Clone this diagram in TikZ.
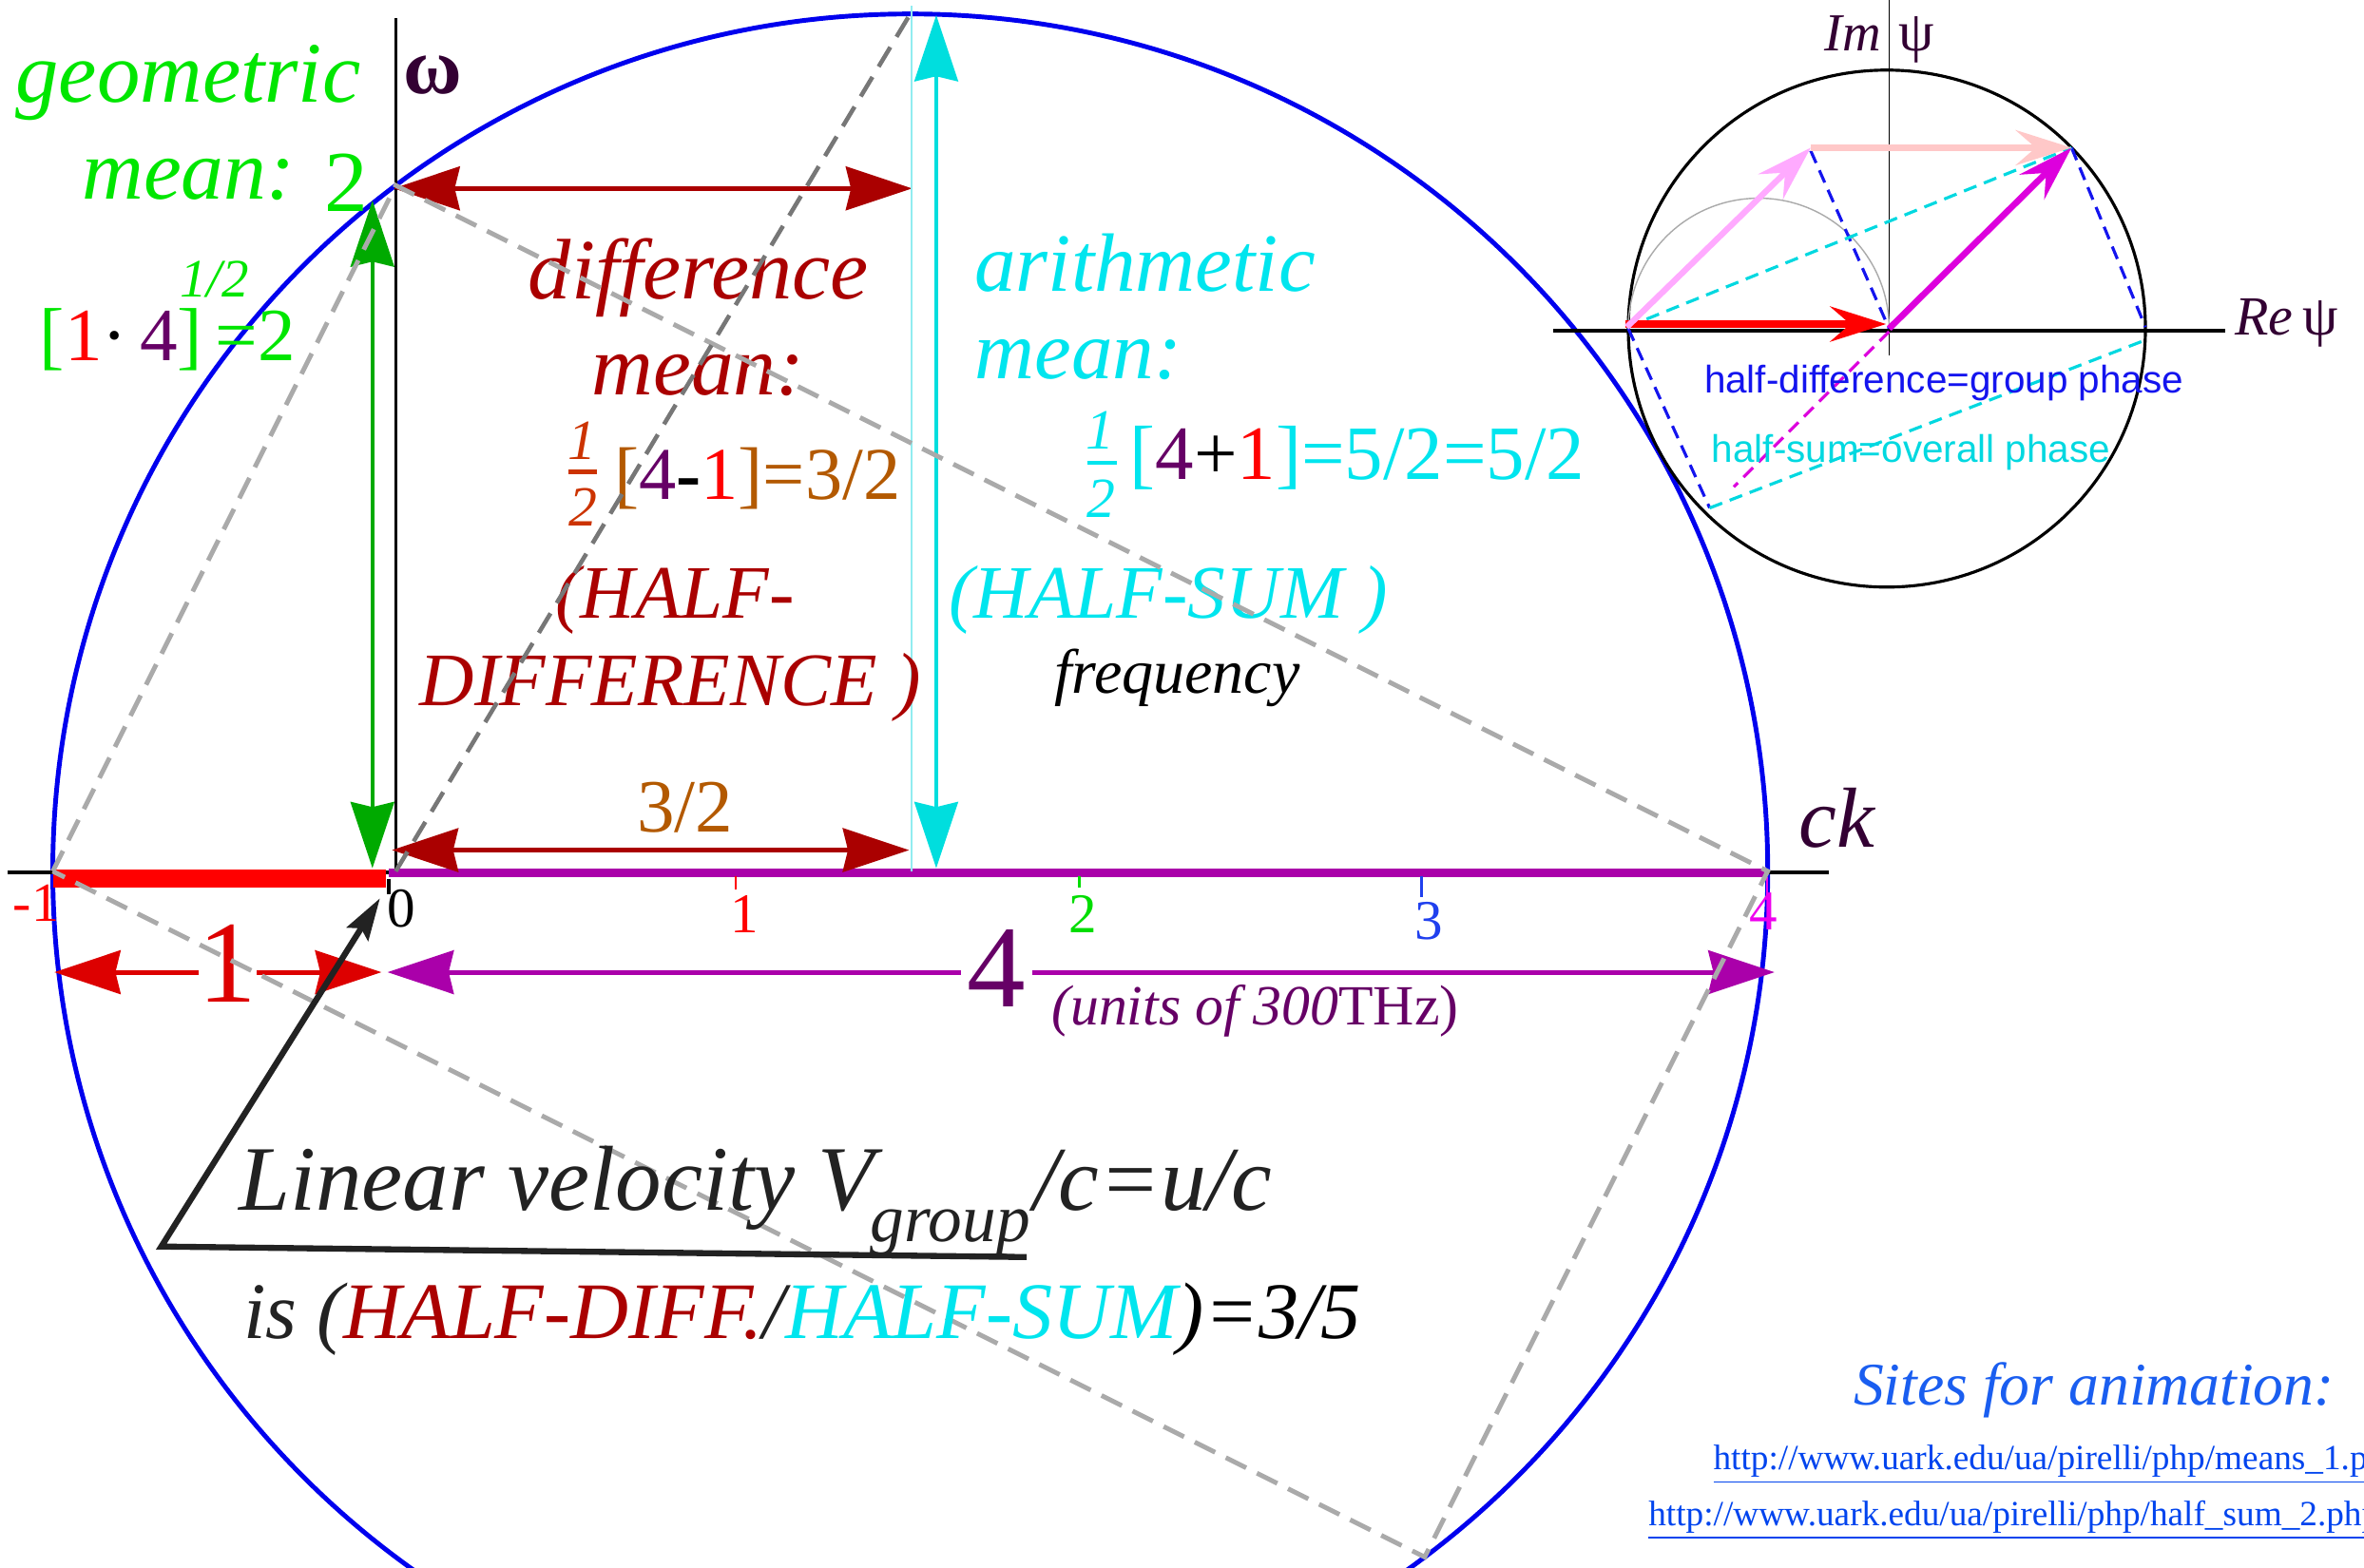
\documentclass[tikz,border=0pt]{standalone}
\usepackage{fontspec}
\setmainfont{Liberation Serif}
\newfontfamily\sansf{Liberation Sans}
\usetikzlibrary{arrows.meta}
\definecolor{dred}{HTML}{AA0000}
\definecolor{gmean}{HTML}{00E600}
\definecolor{garrow}{HTML}{00AA00}
\definecolor{brn}{HTML}{B35900}
\definecolor{orn}{HTML}{CC3300}
\definecolor{dpur}{HTML}{660066}
\definecolor{pur}{HTML}{AA00AA}
\definecolor{cyn}{HTML}{00E5EE}
\definecolor{cyna}{HTML}{00DEDE}
\definecolor{cynl}{HTML}{90ECF0}
\definecolor{axl}{HTML}{330033}
\definecolor{bcirc}{HTML}{0000EE}
\definecolor{lgrey}{HTML}{AAAAAA}
\definecolor{dgrey}{HTML}{777777}
\definecolor{rd}{HTML}{FF0000}
\definecolor{rda}{HTML}{DD0000}
\definecolor{lin}{HTML}{222222}
\definecolor{site}{HTML}{1A5EF0}
\definecolor{url}{HTML}{0044EE}
\definecolor{pinka}{HTML}{FFAAFF}
\definecolor{pinkb}{HTML}{FFC8C8}
\definecolor{mag}{HTML}{DD00DD}
\definecolor{hdiff}{HTML}{1414EE}
\definecolor{hsum}{HTML}{00D8E0}
\definecolor{tickg}{HTML}{00DD00}
\definecolor{tickb}{HTML}{2040EE}
\definecolor{tickm}{HTML}{EE00EE}
\newcommand\fsz[1]{\fontsize{#1}{#1}\selectfont}
\begin{document}
\begin{tikzpicture}[x=0.01586cm,y=-0.01586cm,
  lbl/.style={inner sep=0pt, anchor=base west},
  lblc/.style={inner sep=0pt, anchor=base},
  bigtips/.style={arrows={Stealth[length=19.8pt,width=13pt,inset=1.5pt]-Stealth[length=19.8pt,width=13pt,inset=1.5pt]}},
  smalltip/.style={arrows={-Stealth[length=16.7pt,width=10.5pt,inset=6pt]}},
  ptrtip/.style={arrows={-Stealth[length=12.6pt,width=7.5pt,inset=2pt]}},
  lgdash/.style={draw=lgrey, line width=1.4pt, dash pattern=on 6.8pt off 3.6pt},
  dgdash/.style={draw=dgrey, line width=1.3pt, dash pattern=on 6.8pt off 3.6pt},
  thindash/.style={line width=0.9pt, dash pattern=on 4pt off 2.4pt}]
\useasboundingbox (0,0) rectangle (1568,1040);
\clip (0,0) rectangle (1568,1040);
% ---------- key points
\coordinate (O) at (262.5,578);
\coordinate (Mn) at (35,578);
\coordinate (P4) at (1172.5,578);
\coordinate (W2) at (262.5,123);
\coordinate (Tp) at (603.75,9.25);
\coordinate (Bt) at (945,1033);
\coordinate (Cc) at (603.75,578);
% ---------- big circle
\draw[bcirc, line width=1.4pt] (Cc) circle[radius=568.75];
% ---------- axes
\coordinate (axL) at (5,579);
\coordinate (axR) at (1213,579);
\coordinate (wTop) at (262.5,12);
\draw[black, line width=1.1pt] (axL) -- (axR);
\draw[black, line width=0.9pt] (wTop) -- (O);
% ---------- bars
\fill[rd] (35,577) rectangle (256,589);
\fill[pur] (258,576) rectangle (1172,582);
% ---------- ticks
\draw[black, line width=1pt] (258,583) -- (258,593);
\draw[rd, line width=0.8pt] (488,581) -- (488,590);
\draw[tickg, line width=0.8pt] (716,581) -- (716,589);
\draw[tickb, line width=0.8pt] (943,581) -- (943,595);
\draw[tickm, line width=0.8pt] (1172,582) -- (1172,597);
\node[lblc, text=rd] (tkm1) at (24,611) {\fsz{16.5pt}-1};
\node[lblc, text=black] (tk0) at (266.5,615) {\fsz{16.8pt}0};
\node[lblc, text=rd] (tk1) at (494,619) {\fsz{16.8pt}1};
\node[lblc, text=tickg] (tk2) at (718,619) {\fsz{16.8pt}2};
\node[lblc, text=tickb] (tk3) at (948,623) {\fsz{16.8pt}3};
\node[lblc, text=tickm] (tk4) at (1170,617) {\fsz{16.8pt}4};
% ---------- arrows
\coordinate (dA1) at (261,125); \coordinate (dA2) at (605,125);
\coordinate (dB1) at (260,564); \coordinate (dB2) at (603,564);
\draw[dred, line width=1.5pt, bigtips] (dA1) -- (dA2);
\draw[dred, line width=1.5pt, bigtips] (dB1) -- (dB2);
\coordinate (gA1) at (247,133); \coordinate (gA2) at (247,576);
\draw[garrow, line width=1.2pt, bigtips] (gA1) -- (gA2);
\coordinate (cL1) at (604.5,4); \coordinate (cL2) at (604.5,578);
\draw[cynl, line width=0.5pt] (cL1) -- (cL2);
\coordinate (cA1) at (621,10); \coordinate (cA2) at (621,576);
\draw[cyna, line width=1.2pt, bigtips] (cA1) -- (cA2);
\coordinate (rA1) at (36,645); \coordinate (rA2) at (253,645);
\draw[rda, line width=1.4pt, bigtips] (rA1) -- (rA2);
\coordinate (pA1) at (257,645); \coordinate (pA2) at (1177,645);
\draw[pur, line width=1.4pt, bigtips] (pA1) -- (pA2);
\node[lblc, text=rda, fill=white] (tOne) at (151,665) {\fsz{35pt}1};
\node[lblc, text=dpur, fill=white, inner xsep=2pt] (tFour) at (661,668) {\fsz{35pt}4};
\node[lbl, text=dpur] (tUnits) at (697,680) {\fsz{17pt}\textit{(units of 300}THz)};
\node[lblc, text=brn] (t32) at (454.5,552) {\fsz{22.5pt}3/2};
% ---------- texts, left
\node[lbl, text=gmean] (tGeo) at (10,68) {\fsz{25.8pt}\itshape geometric};
\node[lbl, text=gmean] (tMean1) at (54,132) {\fsz{25.5pt}\itshape mean:};
\node[lbl, text=gmean] (tTwo) at (215,140) {\fsz{26pt}2};
\node[lbl, text=gmean] (tHalf) at (119,197) {\fsz{16.2pt}\itshape 1/2};
\node[lbl, text=gmean] (tProd) at (26,239) {\fsz{22.5pt}[\textcolor{rd}{1}\textcolor{black}{·}\,\textcolor{dpur}{4}]\,=2};
\node[lbl, text=axl] (tW) at (267,62) {\fsz{24pt}\bfseries ω};
% ---------- difference mean
\node[lbl, text=dred] (tDiff) at (350,198) {\fsz{25.7pt}\itshape difference};
\node[lbl, text=dred] (tMean2) at (392,262) {\fsz{25.5pt}\itshape mean:};
\node[lblc, text=orn] (f1n) at (386,305) {\fsz{17pt}\itshape 1};
\coordinate (f1a) at (377,313); \coordinate (f1b) at (396,313);
\draw[orn, line width=1.2pt] (f1a) -- (f1b);
\node[lblc, text=orn] (f1d) at (386.5,349) {\fsz{17pt}\itshape 2};
\node[lbl, text=brn] (tDM) at (407,331) {\fsz{22.3pt}[\textcolor{dpur}{4}\textcolor{black}{\bfseries -}\textcolor{rd}{1}]=3/2};
\node[lbl, text=dred] (tHD1) at (368,410) {\fsz{22.6pt}\itshape (HALF-};
\node[lbl, text=dred] (tHD2) at (278,468) {\fsz{22.6pt}\itshape DIFFERENCE )};
% ---------- arithmetic mean
\node[lbl, text=cyn] (tAri) at (646,193) {\fsz{24.8pt}\itshape arithmetic};
\node[lbl, text=cyn] (tMean3) at (646,251) {\fsz{24.8pt}\itshape mean:};
\node[lblc, text=cyn] (f2n) at (730,298) {\fsz{17pt}\itshape 1};
\coordinate (f2a) at (721,307); \coordinate (f2b) at (741,307);
\draw[cyn, line width=1.2pt] (f2a) -- (f2b);
\node[lblc, text=cyn] (f2d) at (730.5,343) {\fsz{17pt}\itshape 2};
\node[lbl, text=cyn] (tAM) at (749,318) {\fsz{23pt}[\textcolor{dpur}{4}\textcolor{black}{+}\textcolor{rd}{1}]=5/2=5/2};
\node[lbl, text=cyn] (tHS) at (629,410) {\fsz{22.6pt}\itshape (HALF-SUM )};
\node[lbl, text=black] (tFreq) at (699,460) {\fsz{18.8pt}\itshape frequency};
\node[lbl, text=axl] (tck) at (1193,562) {\fsz{25.5pt}\itshape ck};
% ---------- dashed construction lines
\draw[lgdash] (Mn) -- (W2) -- (P4) -- (Bt) -- cycle;
\draw[dgdash] (O) -- (Tp);
% ---------- pointer
\coordinate (ulR) at (681,834); \coordinate (ulL) at (107,827); \coordinate (ptr) at (252,596);
\draw[lin, line width=1.8pt, ptrtip] (ulR) -- (ulL) -- (ptr);
\node[lbl, text=lin] (tLin) at (158,803) {\fsz{27.6pt}\itshape Linear velocity V};
\node[lbl, text=lin] (tGrp) at (577,824) {\fsz{20.3pt}\itshape group};
\node[lbl, text=lin] (tUc) at (685,803) {\fsz{27.3pt}\itshape /c=u/c};
\node[lbl, text=lin] (tIs) at (161,888) {\fsz{24pt}\itshape is (\textcolor{dred}{HALF-DIFF.}/\textcolor{cyn}{HALF-SUM}\textcolor{black}{)=3/5}};
% ---------- sites
\node[lbl, text=site] (tSites) at (1229,932) {\fsz{18.1pt}\itshape Sites for animation:};
\node[lbl, text=url] (tU1) at (1136,975) {\fsz{10.6pt}\underline{http://www.uark.edu/ua/pirelli/php/means\_1.php}};
\node[lbl, text=url] (tU2) at (1093,1012) {\fsz{10.6pt}\underline{http://www.uark.edu/ua/pirelli/php/half\_sum\_2.php}};
% ---------- inset phasor circle
\coordinate (C2) at (1251.5,218);
\coordinate (iaL) at (1030,219.5); \coordinate (iaR) at (1476,219.5);
\coordinate (ivT) at (1253,0); \coordinate (ivB) at (1253,236);
\coordinate (A) at (1079,217);
\coordinate (B) at (1201,98);
\coordinate (D) at (1374,98);
\coordinate (E) at (1423,217);
\coordinate (F) at (1134,337);
\coordinate (Z) at (1253,218);
\draw[black, line width=0.9pt] (C2) circle[radius=171.5];
\draw[black, line width=1pt] (iaL) -- (iaR);
\draw[black, line width=0.5pt] (ivT) -- (ivB);
\draw[lgrey, line width=0.4pt] (1080,218) arc[start angle=180, end angle=360, radius=86.5];
\draw[hdiff, thindash] (1201,100) -- (Z);
\draw[hdiff, thindash] (D) -- (E);
\draw[hdiff, thindash] (1080,218) -- (F);
\draw[hsum, thindash] (A) -- (D);
\draw[hsum, thindash] (F) -- (1422,226);
\draw[mag, thindash] (1253,220) -- (1150,323);
\draw[rd, line width=2.3pt, smalltip] (1078,215) -- (1251,215);
\draw[pinka, line width=1.8pt, smalltip] (A) -- (B);
\draw[pinkb, line width=2.2pt, smalltip] (B) -- (D);
\draw[mag, line width=1.9pt, smalltip] (Z) -- (D);
\node[anchor=base east, inner sep=0pt, text=axl] (tIm) at (1248,34) {\fsz{16pt}\itshape Im};
\node[lbl, text=axl] (tImPsi) at (1259,34) {\fsz{17pt}ψ};
\node[lbl, text=axl] (tRe) at (1482,222) {\fsz{16.5pt}\itshape Re};
\node[lbl, text=axl] (tRePsi) at (1527,222) {\fsz{17pt}ψ};
\node[lbl, text=hdiff] (tHDiff) at (1130,261) {\fsz{11.5pt}\sansf half-difference=group phase};
\node[lbl, text=hsum] (tHSum) at (1135,307) {\fsz{11.5pt}\sansf half-sum=overall phase};
\end{tikzpicture}
\end{document}
